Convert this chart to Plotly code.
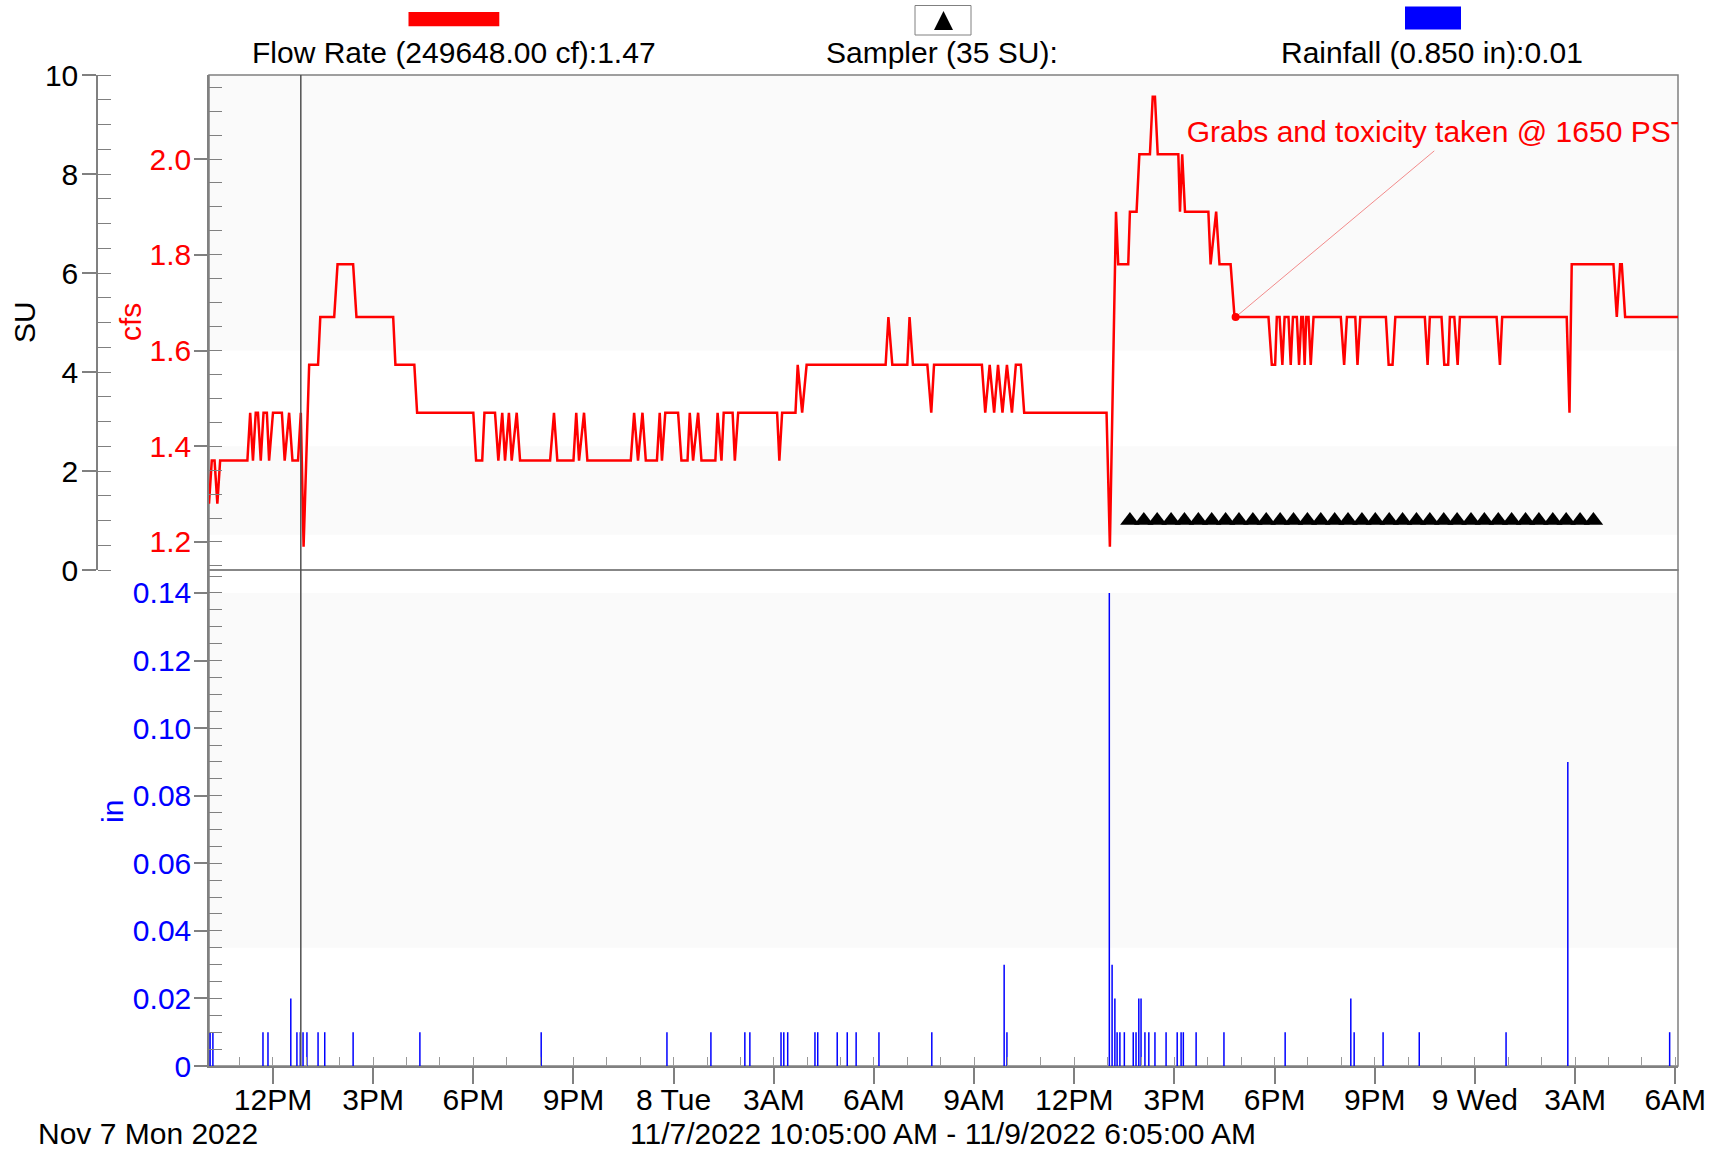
import pandas as pd
import plotly.graph_objects as go

# ---------------- data ----------------
START = pd.Timestamp("2022-11-07 10:05")
END = pd.Timestamp("2022-11-09 06:05")
CURSOR_MIN = 165          # cursor at 12:50 PM, minutes after START

# Flow rate (cfs) vertices, minutes after START
flow_minutes = [
    0, 5, 10, 15, 20, 69, 74, 79, 84, 88, 93, 98, 104, 108, 115, 131, 136, 144, 150, 160,
    165, 170, 180, 196, 200, 225, 231, 259, 265, 331, 335, 369, 374, 475, 480, 491, 495, 514,
    520, 527, 532, 539, 544, 553, 559, 613, 620, 626, 655, 660, 665, 674, 680,
    758, 764, 771, 779, 785, 805, 810, 814, 820, 843, 849, 860, 864, 870, 879, 885, 910, 914,
    921, 925, 941, 945, 951, 1021, 1025, 1030, 1054, 1058, 1066, 1074, 1216, 1221, 1228,
    1255, 1259, 1265, 1291, 1298, 1303, 1389, 1395, 1403, 1411, 1418, 1426, 1434, 1443,
    1450, 1459, 1465, 1613,
    1619, 1630, 1634, 1652, 1655, 1667, 1672, 1691, 1696, 1700, 1705, 1742, 1745, 1749,
    1754, 1796, 1800, 1810, 1816, 1836, 1843,
    1904, 1910, 1916, 1919, 1924, 1929, 1933, 1940, 1944, 1948, 1955, 1959, 1963, 1966,
    1969, 1972, 1976, 1980, 1985, 2034, 2040, 2045, 2060, 2064, 2069, 2115, 2120, 2127,
    2132, 2185, 2190, 2194, 2215, 2220, 2227, 2230, 2238, 2244, 2248, 2314, 2320, 2324,
    2440, 2445, 2449, 2524, 2530, 2536, 2539, 2545, 2640,
]
flow_cfs = [
    1.28, 1.37, 1.37, 1.28, 1.37, 1.37, 1.47, 1.37, 1.47, 1.47, 1.37, 1.47, 1.47, 1.37, 1.47, 1.47, 1.37, 1.47, 1.37, 1.37,
    1.47, 1.19, 1.57, 1.57, 1.67, 1.67, 1.78, 1.78, 1.67, 1.67, 1.57, 1.57, 1.47, 1.47, 1.37, 1.37, 1.47, 1.47,
    1.37, 1.47, 1.37, 1.47, 1.37, 1.47, 1.37, 1.37, 1.47, 1.37, 1.37, 1.47, 1.37, 1.47, 1.37,
    1.37, 1.47, 1.37, 1.47, 1.37, 1.37, 1.47, 1.37, 1.47, 1.47, 1.37, 1.37, 1.47, 1.37, 1.47, 1.37, 1.37, 1.47,
    1.37, 1.47, 1.47, 1.37, 1.47, 1.47, 1.37, 1.47, 1.47, 1.57, 1.47, 1.57, 1.57, 1.67, 1.57,
    1.57, 1.67, 1.57, 1.57, 1.47, 1.57, 1.57, 1.47, 1.57, 1.47, 1.57, 1.47, 1.57, 1.47,
    1.57, 1.57, 1.47, 1.47,
    1.19, 1.89, 1.78, 1.78, 1.89, 1.89, 2.01, 2.01, 2.13, 2.13, 2.01, 2.01, 1.89, 2.01,
    1.89, 1.89, 1.78, 1.89, 1.78, 1.78, 1.67,
    1.67, 1.57, 1.57, 1.67, 1.67, 1.57, 1.67, 1.67, 1.57, 1.67, 1.67, 1.57, 1.67, 1.67,
    1.57, 1.67, 1.67, 1.57, 1.67, 1.67, 1.57, 1.67, 1.67, 1.57, 1.67, 1.67, 1.57, 1.57,
    1.67, 1.67, 1.57, 1.67, 1.67, 1.57, 1.57, 1.67, 1.67, 1.57, 1.67, 1.67, 1.57, 1.67,
    1.67, 1.47, 1.78, 1.78, 1.67, 1.78, 1.78, 1.67, 1.67,
]

# Rainfall (in) per record, minutes after START
rain_minutes = [
    2, 7, 97, 106, 147, 158, 164, 169, 176, 196, 208, 259, 379, 597, 823, 902, 963, 972,
    1028, 1033, 1040, 1089, 1094, 1129, 1147, 1163, 1204, 1299, 1429, 1434, 1618, 1623,
    1628, 1632, 1637, 1645, 1661, 1666, 1671, 1675, 1682, 1689, 1700, 1720, 1740, 1747,
    1751, 1774, 1824, 1934, 2052, 2058, 2110, 2175, 2331, 2442, 2625,
]
rain_in = [
    0.01, 0.01, 0.01, 0.01, 0.02, 0.01, 0.01, 0.01, 0.01, 0.01, 0.01, 0.01, 0.01, 0.01, 0.01, 0.01, 0.01, 0.01,
    0.01, 0.01, 0.01, 0.01, 0.01, 0.01, 0.01, 0.01, 0.01, 0.01, 0.03, 0.01, 0.14, 0.03,
    0.02, 0.01, 0.01, 0.01, 0.01, 0.01, 0.02, 0.02, 0.01, 0.01, 0.01, 0.01, 0.01, 0.01,
    0.01, 0.01, 0.01, 0.01, 0.02, 0.01, 0.01, 0.01, 0.01, 0.09, 0.01,
]

# Sampler events (35 samples, 1 SU each), minutes after START
sampler_minutes = [
    1655, 1680, 1704, 1729, 1753, 1778, 1802, 1827, 1851, 1876, 1900, 1925, 1949, 1974,
    1998, 2023, 2047, 2072, 2096, 2121, 2145, 2170, 2194, 2219, 2243, 2268, 2292, 2317,
    2341, 2366, 2390, 2415, 2439, 2464, 2488,
]
sampler_su = [1, 1, 1, 1, 1, 1, 1, 1, 1, 1, 1, 1, 1, 1, 1, 1, 1, 1, 1, 1, 1, 1, 1, 1, 1,
              1, 1, 1, 1, 1, 1, 1, 1, 1, 1]

x_tick_times = [
    "2022-11-07 12:00", "2022-11-07 15:00", "2022-11-07 18:00", "2022-11-07 21:00",
    "2022-11-08 00:00", "2022-11-08 03:00", "2022-11-08 06:00", "2022-11-08 09:00",
    "2022-11-08 12:00", "2022-11-08 15:00", "2022-11-08 18:00", "2022-11-08 21:00",
    "2022-11-09 00:00", "2022-11-09 03:00", "2022-11-09 06:00",
]
x_tick_labels = ["12PM", "3PM", "6PM", "9PM", "8 Tue", "3AM", "6AM", "9AM",
                 "12PM", "3PM", "6PM", "9PM", "9 Wed", "3AM", "6AM"]
cfs_ticks = [1.2, 1.4, 1.6, 1.8, 2.0]
cfs_tick_labels = ["1.2", "1.4", "1.6", "1.8", "2.0"]
su_ticks = [0, 2, 4, 6, 8, 10]
in_ticks = [0, 0.02, 0.04, 0.06, 0.08, 0.10, 0.12, 0.14]
in_tick_labels = ["0", "0.02", "0.04", "0.06", "0.08", "0.10", "0.12", "0.14"]

GRAB_MIN, GRAB_CFS = 1845, 1.67               # 16:50 on 11/8
LEADER_END_MIN, LEADER_END_CFS = 2202, 2.017
TEXT_MIN, TEXT_CFS = 1757, 2.051
grab_text = "Grabs and toxicity taken @ 1650 PST"

# ---------------- helpers ----------------
W, H = 1717, 1152
ML, MR, MT, MB = 97, 39, 75, 86
PW, PH = W - ML - MR, H - MT - MB


def pxx(x):
    return (x - ML) / PW


def pyy(y):
    return (H - MB - y) / PH


def ts(m):
    return (START + pd.Timedelta(minutes=m)).strftime("%Y-%m-%d %H:%M:%S")


FONT = "Liberation Sans, Arial, sans-serif"
GRAY = "#808080"
SPLIT = pyy(570)
FS = 30

fig = go.Figure()

fig.add_trace(go.Scatter(
    x=[ts(m) for m in flow_minutes], y=flow_cfs, mode="lines",
    line=dict(color="#ff0000", width=2.5), xaxis="x", yaxis="y", hoverinfo="skip"))

rx, ry = [], []
for m, v in zip(rain_minutes, rain_in):
    rx += [ts(m), ts(m), None]
    ry += [0, v, None]
fig.add_trace(go.Scatter(x=rx, y=ry, mode="lines", line=dict(color="#0000ff", width=1.5),
                         xaxis="x", yaxis="y3", hoverinfo="skip"))

fig.add_trace(go.Scatter(
    x=[ts(m) for m in sampler_minutes], y=sampler_su, mode="markers",
    marker=dict(symbol="triangle-up", size=17, color="black", line=dict(width=0)),
    xaxis="x", yaxis="y2", hoverinfo="skip"))

fig.add_trace(go.Scatter(
    x=[ts(GRAB_MIN), ts(LEADER_END_MIN)], y=[GRAB_CFS, LEADER_END_CFS], mode="lines",
    line=dict(color="#f28b8b", width=1), xaxis="x", yaxis="y", hoverinfo="skip"))
fig.add_trace(go.Scatter(
    x=[ts(GRAB_MIN)], y=[GRAB_CFS], mode="markers",
    marker=dict(color="#ff0000", size=8), xaxis="x", yaxis="y", hoverinfo="skip"))
fig.add_trace(go.Scatter(
    x=[ts(TEXT_MIN)], y=[TEXT_CFS], mode="text", text=[grab_text],
    textposition="middle right", textfont=dict(family=FONT, size=FS, color="#ff0000"),
    cliponaxis=True, xaxis="x", yaxis="y", hoverinfo="skip"))

axis_common = dict(showline=True, linecolor=GRAY, linewidth=1.5, showgrid=False,
                   zeroline=False, ticks="outside", tickwidth=1.5, tickcolor=GRAY)

fig.update_layout(
    width=W, height=H, margin=dict(l=ML, r=MR, t=MT, b=MB, pad=0),
    plot_bgcolor="white", paper_bgcolor="white", showlegend=False,
    font=dict(family=FONT, size=FS, color="black"),
    xaxis=dict(domain=[pxx(209), 1], anchor="y3", type="date",
               range=[ts(0), ts((END - START).total_seconds() / 60)],
               tickmode="array", tickvals=x_tick_times, ticktext=x_tick_labels,
               ticklen=16, ticklabelstandoff=-10, tickfont=dict(size=FS, color="black"),
               minor=dict(ticks="inside", ticklen=9, tickwidth=1.2, tickcolor="#999999",
                          dtick=3600000, tick0="2022-11-07 00:00:00", showgrid=False),
               **axis_common),
    yaxis=dict(domain=[SPLIT, 1], anchor="x", range=[1.1415, 2.1755],
               tickmode="array", tickvals=cfs_ticks, ticktext=cfs_tick_labels,
               ticklen=13, ticklabelstandoff=-3, tickfont=dict(size=FS, color="#ff0000"),
               minor=dict(ticks="inside", ticklen=13, tickwidth=1.2, tickcolor=GRAY,
                          dtick=0.05, tick0=0, showgrid=False),
               **axis_common),
    yaxis2=dict(overlaying="y", anchor="free", position=0, side="left", range=[0, 10],
                tickmode="array", tickvals=su_ticks, ticklen=14, ticklabelstandoff=-2,
                tickfont=dict(size=FS, color="black"),
                minor=dict(ticks="inside", ticklen=13, tickwidth=1.2, tickcolor=GRAY,
                           dtick=0.5, tick0=0, showgrid=False),
                **axis_common),
    yaxis3=dict(domain=[0, SPLIT], anchor="x", range=[0, 0.1468],
                tickmode="array", tickvals=in_ticks, ticktext=in_tick_labels,
                ticklen=13, ticklabelstandoff=-3, tickfont=dict(size=FS, color="#0000ff"),
                minor=dict(ticks="inside", ticklen=13, tickwidth=1.2, tickcolor=GRAY,
                           dtick=0.005, tick0=0, showgrid=False),
                **axis_common),
)

shapes = []
band = "#fafafa"
for y0, y1, yr in [(1.215, 1.40, "y"), (1.60, 2.1755, "y"), (0.035, 0.14, "y3")]:
    shapes.append(dict(type="rect", xref="x domain", yref=yr, x0=0, x1=1, y0=y0, y1=y1,
                       fillcolor=band, line=dict(width=0), layer="below"))
for yr in ["y domain", "y3 domain"]:
    shapes.append(dict(type="rect", xref="x domain", yref=yr, x0=0, x1=1, y0=0, y1=1,
                       line=dict(color=GRAY, width=1.5), fillcolor="rgba(0,0,0,0)",
                       layer="below"))
shapes.append(dict(type="line", xref="x", yref="paper", x0=ts(CURSOR_MIN), x1=ts(CURSOR_MIN),
                   y0=0, y1=1, line=dict(color="#505050", width=1.5), layer="above"))
# legend swatches
shapes.append(dict(type="rect", xref="paper", yref="paper", x0=pxx(408.5), x1=pxx(499.3),
                   y0=pyy(26.3), y1=pyy(12), fillcolor="#ff0000", line=dict(width=0)))
shapes.append(dict(type="rect", xref="paper", yref="paper", x0=pxx(915), x1=pxx(971),
                   y0=pyy(35), y1=pyy(5.5), fillcolor="white", line=dict(color=GRAY, width=1)))
shapes.append(dict(type="path", xref="paper", yref="paper",
                   path=f"M {pxx(934)},{pyy(30)} L {pxx(953)},{pyy(30)} L {pxx(943.5)},{pyy(11)} Z",
                   fillcolor="black", line=dict(width=0)))
shapes.append(dict(type="rect", xref="paper", yref="paper", x0=pxx(1405), x1=pxx(1461),
                   y0=pyy(29.6), y1=pyy(6.6), fillcolor="#0000ff", line=dict(width=0)))
fig.update_layout(shapes=shapes)


def ann(text, x, y, color="black", angle=0, size=FS):
    return dict(text=text, xref="paper", yref="paper", x=pxx(x), y=pyy(y),
                xanchor="center", yanchor="middle", showarrow=False, textangle=angle,
                font=dict(family=FONT, size=size, color=color))


fig.update_layout(annotations=[
    ann("Flow Rate (249648.00 cf):1.47", 454, 52.6),
    ann("Sampler (35 SU):", 942, 52.6),
    ann("Rainfall (0.850 in):0.01", 1432, 52.6),
    ann("SU", 24, 322, angle=-90),
    ann("cfs", 130, 322, color="#ff0000", angle=-90),
    ann("in", 112, 812, color="#0000ff", angle=-90),
    ann("Nov 7 Mon 2022", 148, 1133),
    ann("11/7/2022 10:05:00 AM - 11/9/2022 6:05:00 AM", 943, 1133),
])

fig.write_html("out.html", config={"displayModeBar": False},
               post_script="document.body.style.margin='0px';")
